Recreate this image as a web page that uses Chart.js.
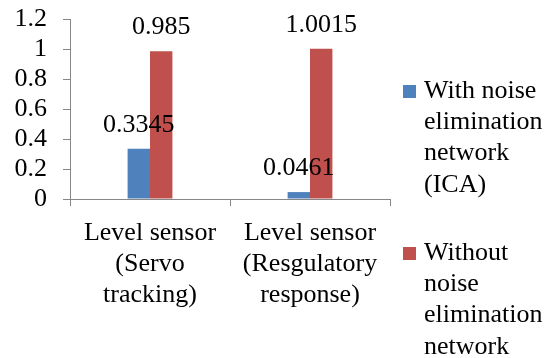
<!DOCTYPE html>
<html>
<head>
<meta charset="utf-8">
<script src="https://cdn.jsdelivr.net/npm/chart.js@4"></script>
<style>
  html, body { margin: 0; padding: 0; background: #fff; }
  #wrap { width: 555px; height: 358px; }
</style>
</head>
<body>
<div id="wrap"><canvas id="barChart"></canvas></div>
<script>
//Categories on the x axis (one line per array entry)
var categories = [
  ['Level sensor', '(Servo', 'tracking)'],
  ['Level sensor', '(Resgulatory', 'response)']
];

//Series values
var withIca = [0.3345, 0.0461];
var withoutIca = [0.985, 1.0015];

//Series names, split the way the legend shows them
var seriesNames = [
  ['With noise', 'elimination', 'network', '(ICA)'],
  ['Without', 'noise', 'elimination', 'network']
];

//Y axis tick labels, bottom to top
var yTickLabels = ['0', '0.2', '0.4', '0.6', '0.8', '1', '1.2'];

var colors = ['#4F81BD', '#C0504D'];
var axisGrey = '#878787';
var FONT = "'Liberation Serif', 'Times New Roman', serif";

//Value printed above every bar
var valueLabels = {
  id: 'valueLabels',
  afterDatasetsDraw: function (chart) {
    var ctx = chart.ctx;
    ctx.save();
    ctx.font = '26px ' + FONT;
    ctx.fillStyle = '#000';
    ctx.textAlign = 'center';
    ctx.textBaseline = 'alphabetic';
    chart.data.datasets.forEach(function (ds, i) {
      chart.getDatasetMeta(i).data.forEach(function (bar, j) {
        ctx.fillText(String(ds.data[j]), bar.x, bar.y - 17);
      });
    });
    ctx.restore();
  }
};

//Legend on the right with multi-line names
var sideLegend = {
  id: 'sideLegend',
  afterDraw: function (chart) {
    var ctx = chart.ctx;
    var boxX = chart.chartArea.right + 13;
    var firstBaselines = [98, 260];
    var lineStep = 31.2;
    ctx.save();
    ctx.font = '26px ' + FONT;
    ctx.textAlign = 'left';
    ctx.textBaseline = 'alphabetic';
    chart.data.datasets.forEach(function (ds, i) {
      var base = firstBaselines[i];
      ctx.fillStyle = ds.backgroundColor;
      ctx.fillRect(boxX, base - 13, 13, 13);
      ctx.fillStyle = '#000';
      seriesNames[i].forEach(function (line, k) {
        ctx.fillText(line, boxX + 21, base + k * lineStep);
      });
    });
    ctx.restore();
  }
};

var ctx = document.getElementById('barChart').getContext('2d');
var barChart = new Chart(ctx, {
  type: 'bar',
  data: {
    labels: categories,
    datasets: [{
      label: seriesNames[0].join(' '),
      data: withIca,
      backgroundColor: colors[0]
    }, {
      label: seriesNames[1].join(' '),
      data: withoutIca,
      backgroundColor: colors[1]
    }]
  },
  options: {
    responsive: true,
    maintainAspectRatio: false,
    animation: false,
    datasets: {
      bar: { barPercentage: 1, categoryPercentage: 0.28 }
    },
    layout: {
      padding: { left: 0, top: 19, right: 165, bottom: 0 }
    },
    plugins: {
      legend: { display: false },
      tooltip: { enabled: false }
    },
    scales: {
      x: {
        ticks: {
          color: '#000',
          padding: 12,
          maxRotation: 0,
          autoSkip: false,
          font: { family: FONT, size: 26, lineHeight: 1.19 }
        },
        grid: { drawOnChartArea: false, offset: true, tickLength: 7, color: axisGrey },
        border: { color: axisGrey },
        afterFit: function (scale) {
          scale.height = 159;
          scale.paddingLeft = 0;
          scale.paddingRight = 0;
        }
      },
      y: {
        min: 0,
        max: 1.2,
        ticks: {
          stepSize: 0.2,
          autoSkip: false,
          color: '#000',
          padding: 16,
          font: { family: FONT, size: 26 },
          callback: function (value, index) { return yTickLabels[index]; }
        },
        grid: { drawOnChartArea: false, tickLength: 7, color: axisGrey },
        border: { color: axisGrey },
        afterFit: function (scale) {
          scale.width = 70;
          scale.paddingTop = 0;
          scale.paddingBottom = 0;
        }
      }
    }
  },
  plugins: [valueLabels, sideLegend]
});
</script>
</body>
</html>
